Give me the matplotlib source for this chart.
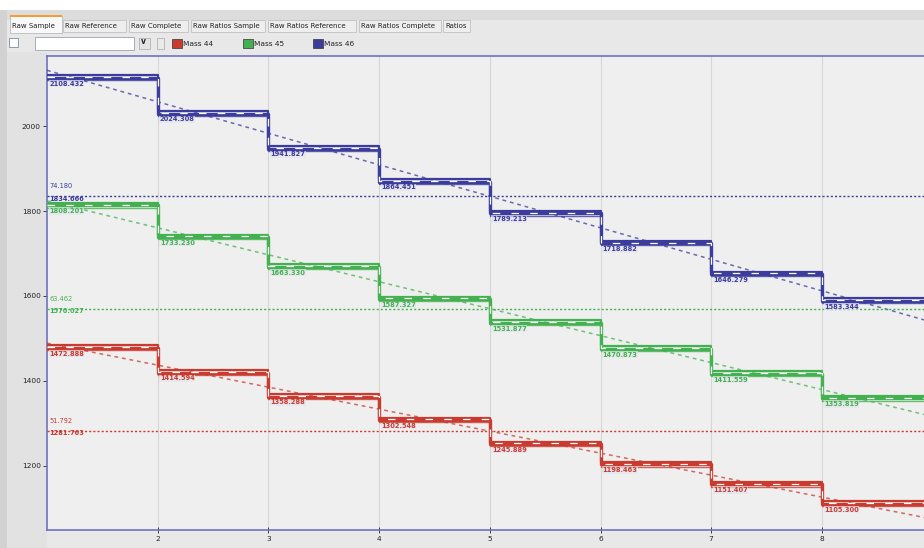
import numpy as np
import matplotlib.pyplot as plt
from matplotlib.patches import Rectangle

# cycle boundaries (x) and per-cycle mean intensities for each mass
cycle_edges = np.arange(1, 10)
mass44 = [1472.888, 1414.594, 1358.288, 1302.548, 1245.889, 1198.463, 1151.407, 1105.300]
mass45 = [1808.201, 1733.230, 1663.330, 1587.327, 1531.877, 1470.873, 1411.559, 1353.819]
mass46 = [2108.432, 2024.308, 1941.827, 1864.451, 1789.213, 1718.882, 1646.279, 1583.344]

# overall mean and fitted slope per mass
mean44, mean45, mean46 = 1281.763, 1570.027, 1834.666
slope44, slope45, slope46 = 51.792, 63.462, 74.180

y_ticks = [1200, 1400, 1600, 1800, 2000]
x_ticks = [2, 3, 4, 5, 6, 7, 8]
tab_names = ['Raw Sample', 'Raw Reference', 'Raw Complete', 'Raw Ratios Sample',
             'Raw Ratios Reference', 'Raw Ratios Complete', 'Ratios']

c44, c45, c46 = '#c93a2f', '#43b150', '#3c3c9c'
W, H = 924, 548

fig = plt.figure(figsize=(W / 100, H / 100), dpi=100, facecolor='#e8e8e8')


def px(x, y):
    return x / W, 1 - y / H


def box(x0, y0, x1, y1, fc, ec='none', lw=0.8, z=1):
    fx, fy = px(x0, y1)
    fig.add_artist(Rectangle((fx, fy), (x1 - x0) / W, (y1 - y0) / H,
                             transform=fig.transFigure, fc=fc, ec=ec, lw=lw, zorder=z))


def label(x, y, s, size=5.3, **kw):
    fx, fy = px(x, y)
    fig.text(fx, fy, s, va='center', ha='left', fontsize=size, color='#222222', **kw)


# window chrome
box(0, 0, W, 10, '#ffffff')
box(0, 10, W, 20, '#dcdcdc')
box(0, 10, 7, H, '#d2d2d2')
box(7, 52, 47, H, '#e2e2e2')

tab_x = [(10, 62), (63, 126), (129, 188), (191, 265), (268, 356), (359, 441), (443, 470)]
for i, (name, (a, b)) in enumerate(zip(tab_names, tab_x)):
    if i == 0:
        box(a, 16, b, 33, '#f8f8f8', ec='#b0b0b0', lw=0.5, z=2)
        box(a, 15, b, 17, '#f0a030', z=3)
    else:
        box(a, 20, b, 32, '#eeeeee', ec='#b8b8b8', lw=0.5, z=2)
    label(a + 2, 26, name, size=5.0, zorder=4)

box(9, 38, 18, 47, '#ffffff', ec='#7a8aa8', lw=0.6, z=2)
box(35, 37, 134, 50, '#ffffff', ec='#9aa0b0', lw=0.6, z=2)
box(139, 38, 150, 49, '#e4e4e4', ec='#a8a8a8', lw=0.5, z=2)
label(141, 42, 'v', size=5.5, zorder=4, fontweight='bold')
box(157, 38, 164, 49, '#eaeaea', ec='#a8a8a8', lw=0.5, z=2)
for x0, col, txt in [(172, c44, 'Mass 44'), (243, c45, 'Mass 45'), (313, c46, 'Mass 46')]:
    box(x0, 39, x0 + 10, 48, col, ec='#333333', lw=0.5, z=2)
    label(x0 + 11, 43.5, txt, zorder=4)

# plot area: x = 9 lands just past the right edge
left, top, bottom = 47, 56, 530
x_right = 47 + 8 * 110.7
ax = fig.add_axes([left / W, 1 - bottom / H, (x_right - left) / W, (bottom - top) / H])
ax.set_zorder(5)
ax.set_facecolor('#efefef')
ax.set_xlim(1, 9)
ax.set_ylim(1049, 2165)

for side in ['left', 'bottom', 'top', 'right']:
    ax.spines[side].set_color('#7070c0')
    ax.spines[side].set_linewidth(1.2)

ax.set_xticks(x_ticks)
ax.set_yticks(y_ticks)
ax.tick_params(axis='both', labelsize=5.3, colors='#222222', length=3, width=0.6,
               pad=1.5)
ax.tick_params(axis='x', direction='inout', length=5)
ax.xaxis.grid(True, color='#d6d6d6', lw=0.8)
ax.set_axisbelow(True)

xs = np.linspace(1, 9, 50)
for levels, mean, slope, col in [(mass46, mean46, slope46, c46),
                                 (mass45, mean45, slope45, c45),
                                 (mass44, mean44, slope44, c44)]:
    lv = np.append(levels, levels[-1])
    # bundle of overlapping cycle traces
    ax.step(cycle_edges, lv + 11, where='post', color=col, lw=1.6, zorder=4)
    ax.step(cycle_edges, lv + 5, where='post', color=col, lw=2.4, zorder=4)
    ax.step(cycle_edges, lv, where='post', color=col, lw=1.0, alpha=0.8, zorder=4)
    ax.step(cycle_edges, lv + 7, where='post', color='white', lw=0.9,
            ls=(0, (6, 9)), zorder=5)
    for k, v in zip(cycle_edges[:-1], levels):
        ax.annotate(f'{v:.3f}', (k, v), xytext=(1.5, -0.5), textcoords='offset points',
                    fontsize=4.8, color=col, va='top', ha='left', zorder=6,
                    fontweight='bold',
                    bbox=dict(fc='#e4e4ee', ec='none', pad=0.3, alpha=0.7))

    # overall mean and linear trend
    ax.axhline(mean, color=col, lw=1.0, ls=(0, (1.5, 1.5)), zorder=3)
    ax.plot(xs, mean - slope * (xs - 5), color=col, lw=1.1, ls=(0, (2.5, 2.5)),
            alpha=0.75, zorder=3)
    ax.annotate(f'{slope:.3f}', (1, mean), xytext=(1.5, 5), textcoords='offset points',
                fontsize=4.8, color=col, va='bottom', ha='left')
    ax.annotate(f'{mean:.3f}', (1, mean), xytext=(1.5, 0.5), textcoords='offset points',
                fontsize=4.8, color=col, va='top', ha='left', fontweight='bold')

fig.savefig('out.png', dpi=100, facecolor=fig.get_facecolor())
